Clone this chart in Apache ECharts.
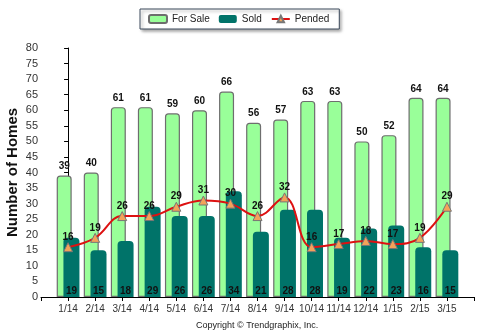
<!DOCTYPE html>
<html><head><meta charset="utf-8">
<script src="https://cdn.jsdelivr.net/npm/echarts@6/dist/echarts.min.js"></script>
<style>html,body{margin:0;padding:0;background:#fff}#c{width:480px;height:335px}</style>
</head><body><div id="c"></div>
<script>
const categories = ['1/14','2/14','3/14','4/14','5/14','6/14','7/14','8/14','9/14','10/14','11/14','12/14','1/15','2/15','3/15'];
const forSale = [39,40,61,61,59,60,66,56,57,63,63,50,52,64,64];
const sold = [19,15,18,29,26,26,34,21,28,28,19,22,23,16,15];
const pended = [16,19,26,26,29,31,30,26,32,16,17,18,17,19,29];
const yTicks = {min:0, max:80, interval:5};

const font = 'Liberation Sans, Arial, sans-serif';
const chart = echarts.init(document.getElementById('c'), null, {renderer:'canvas'});
const pair = arr => arr.map((v,i)=>[i,v]);
chart.setOption({
  animation:false,
  textStyle:{fontFamily:font},
  grid:{left:41, right:6, top:48, bottom:38, containLabel:false, outerBoundsMode:'none'},
  legend:{
    left:140, top:9,
    padding:[5,10,5,8], itemGap:9, itemWidth:18, itemHeight:8,
    borderColor:'#3c4a5c', borderWidth:1, backgroundColor:'#fff',
    shadowColor:'rgba(0,0,0,0.35)', shadowBlur:3, shadowOffsetX:2, shadowOffsetY:2,
    textStyle:{fontFamily:font, fontSize:10, color:'#222'},
    data:['For Sale','Sold','Pended']
  },
  xAxis:{
    type:'value', min:-1, max:categories.length, interval:1,
    axisLine:{show:true, lineStyle:{color:'#000'}},
    axisTick:{show:true, length:4, lineStyle:{color:'#000'}},
    splitLine:{show:false},
    axisLabel:{margin:7, fontSize:10, color:'#333', fontFamily:font,
      formatter:v => (v>=0 && v<categories.length) ? categories[v] : ''}
  },
  yAxis:{
    type:'value', min:yTicks.min, max:yTicks.max, interval:yTicks.interval,
    name:'Number of Homes', nameLocation:'middle', nameGap:21, nameRotate:90,
    nameMoveOverlap:false,
    nameTextStyle:{fontSize:15, fontWeight:'bold', color:'#111', fontFamily:font},
    axisLine:{show:true, lineStyle:{color:'#000'}},
    axisTick:{show:true, length:4, lineStyle:{color:'#000'}},
    splitLine:{show:false},
    axisLabel:{margin:3, fontSize:11, color:'#333', fontFamily:font}
  },
  series:[
    {name:'For Sale', type:'bar', data:pair(forSale), barWidth:15, barGap:'-55%',
     itemStyle:{color:'#99ff99', borderColor:'#6e6e6e', borderWidth:1.2, borderRadius:[3,3,0,0]},
     label:{show:true, position:'top', distance:4, fontSize:10, fontWeight:'bold', color:'#111', fontFamily:font}, z:2},
    {name:'Sold', type:'bar', data:pair(sold), barWidth:16, barGap:'-55%',
     itemStyle:{color:'#007369', borderRadius:[4,4,0,0]},
     label:{show:true, position:'insideBottom', distance:1, fontSize:10, fontWeight:'bold', color:'#111', fontFamily:font}, z:3},
    {name:'Pended', type:'line', data:pair(pended), smooth:0.4,
     lineStyle:{color:'#dd1111', width:2},
     symbol:'triangle', symbolSize:9,
     itemStyle:{color:'#f4a259', borderColor:'#777', borderWidth:1},
     label:{show:true, position:'top', distance:0, fontSize:10, fontWeight:'bold', color:'#111', fontFamily:font}, z:5}
  ],
  graphic:[{type:'text', left:196, top:321, style:{text:'Copyright \u00a9 Trendgraphix, Inc.', fontSize:9, fill:'#222', fontFamily:font}}]
});
</script></body></html>
